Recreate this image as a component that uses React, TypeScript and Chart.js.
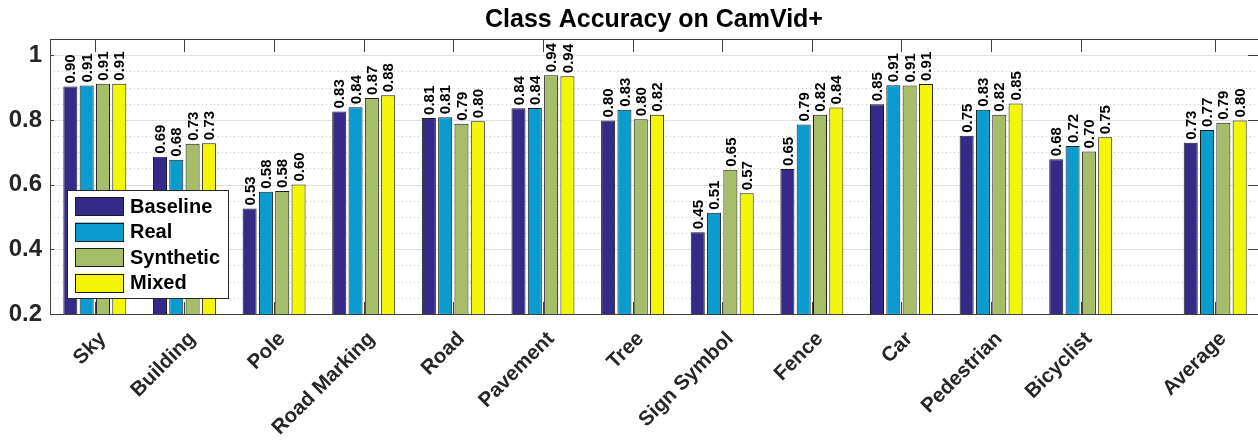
import React, { useEffect, useRef } from "react";
import { Chart, registerables } from "chart.js";

Chart.register(...registerables);

const FONT = '"Liberation Sans", Arial, Helvetica, sans-serif';

const titleText = "Class Accuracy on CamVid+";
const categories = [
  "Sky", "Building", "Pole", "Road Marking", "Road", "Pavement", "Tree",
  "Sign Symbol", "Fence", "Car", "Pedestrian", "Bicyclist", "Average",
];
const positions = [1, 2, 3, 4, 5, 6, 7, 8, 9, 10, 11, 12, 13.5];

const baseline = [0.903, 0.686, 0.526, 0.826, 0.806, 0.836, 0.798, 0.453, 0.648, 0.848, 0.751, 0.678, 0.729];
const real = [0.906, 0.677, 0.578, 0.839, 0.808, 0.837, 0.831, 0.513, 0.786, 0.907, 0.831, 0.719, 0.769];
const synthetic = [0.912, 0.726, 0.58, 0.868, 0.788, 0.938, 0.802, 0.646, 0.816, 0.906, 0.816, 0.702, 0.791];
const mixed = [0.912, 0.728, 0.6, 0.876, 0.796, 0.935, 0.816, 0.573, 0.838, 0.911, 0.851, 0.746, 0.798];

const seriesNames = ["Baseline", "Real", "Synthetic", "Mixed"];
const seriesValues = [baseline, real, synthetic, mixed];
const seriesColors = ["#352a87", "#0a9ccf", "#a6bd69", "#f5f50a"];

const yMajorTicks = [0.2, 0.4, 0.6, 0.8, 1];
const yMinorTicks = [0.25, 0.3, 0.35, 0.45, 0.5, 0.55, 0.65, 0.7, 0.75, 0.85, 0.9, 0.95];

const framePlugin = {
  id: "frame",
  beforeDatasetsDraw(chart: any) {
    const { ctx, chartArea: a, scales } = chart;
    const ys = scales.y;
    const xs = scales.x;
    ctx.save();
    ctx.strokeStyle = "#c4c4c4";
    ctx.lineWidth = 1;
    ctx.setLineDash([1, 3]);
    for (const v of yMinorTicks) {
      const y = Math.round(ys.getPixelForValue(v)) + 0.5;
      ctx.beginPath();
      ctx.moveTo(a.left, y);
      ctx.lineTo(a.right, y);
      ctx.stroke();
    }
    ctx.setLineDash([]);
    ctx.strokeStyle = "#e0e0e0";
    for (const v of yMajorTicks) {
      const y = Math.round(ys.getPixelForValue(v)) + 0.5;
      ctx.beginPath();
      ctx.moveTo(a.left, y);
      ctx.lineTo(a.right, y);
      ctx.stroke();
    }
    ctx.strokeStyle = "#404040";
    for (const p of positions) {
      const x = Math.round(xs.getPixelForValue(p)) + 0.5;
      ctx.beginPath();
      ctx.moveTo(x, a.top);
      ctx.lineTo(x, a.top + 13);
      ctx.moveTo(x, a.bottom);
      ctx.lineTo(x, a.bottom - 12);
      ctx.stroke();
    }
    for (const v of yMajorTicks) {
      const y = Math.round(ys.getPixelForValue(v)) + 0.5;
      ctx.beginPath();
      ctx.moveTo(a.left, y);
      ctx.lineTo(a.left + 4, y);
      ctx.moveTo(a.right, y);
      ctx.lineTo(a.right - 12, y);
      ctx.stroke();
    }
    ctx.restore();
  },
  afterDatasetsDraw(chart: any) {
    const { ctx, chartArea: a } = chart;
    ctx.save();
    ctx.fillStyle = "#000";
    ctx.font = `bold 15px ${FONT}`;
    ctx.textAlign = "left";
    ctx.textBaseline = "middle";
    chart.data.datasets.forEach((ds: any, di: number) => {
      const meta = chart.getDatasetMeta(di);
      meta.data.forEach((el: any, i: number) => {
        const v = ds.data[i].y;
        ctx.save();
        ctx.translate(el.x, el.y - 3);
        ctx.rotate(-Math.PI / 2);
        ctx.fillText(v.toFixed(2), 0, 1);
        ctx.restore();
      });
    });
    ctx.strokeStyle = "#404040";
    ctx.lineWidth = 1;
    ctx.strokeRect(a.left + 0.5, a.top + 0.5, a.right - a.left - 1, a.bottom - a.top);
    ctx.fillStyle = "#000";
    ctx.font = `bold 25px ${FONT}`;
    ctx.textAlign = "center";
    ctx.textBaseline = "middle";
    ctx.fillText(titleText, (a.left + a.right) / 2 - 1, 20);
    ctx.restore();
  },
  afterDraw(chart: any) {
    const { ctx } = chart;
    ctx.save();
    const bx = 67, by = 190, bw = 161, bh = 108;
    ctx.fillStyle = "#fff";
    ctx.fillRect(bx, by, bw, bh);
    ctx.strokeStyle = "#262626";
    ctx.lineWidth = 1;
    ctx.strokeRect(bx + 0.5, by + 0.5, bw, bh);
    ctx.font = `bold 20px ${FONT}`;
    ctx.textAlign = "left";
    ctx.textBaseline = "middle";
    seriesNames.forEach((name, i) => {
      const sy = 197 + i * 25.5;
      ctx.fillStyle = seriesColors[i];
      ctx.fillRect(75, sy, 49, 19);
      ctx.strokeStyle = "#1a1a1a";
      ctx.strokeRect(75.5, Math.round(sy) + 0.5, 48, 18);
      ctx.fillStyle = "#000";
      ctx.fillText(name, 130, sy + 10);
    });
    ctx.restore();
  },
};

export default function App() {
  const ref = useRef<HTMLCanvasElement | null>(null);
  useEffect(() => {
    if (!ref.current) return;
    const chart = new Chart(ref.current, {
      type: "bar",
      data: {
        datasets: seriesNames.map((name, si) => ({
          label: name,
          data: positions.map((p, i) => ({ x: p, y: seriesValues[si][i] })),
          backgroundColor: seriesColors[si],
          borderColor: "#1a1a1a",
          borderWidth: 1,
          categoryPercentage: 0.728,
          barPercentage: 0.86,
        })),
      },
      options: {
        animation: false,
        responsive: false,
        devicePixelRatio: 1,
        layout: { padding: { left: 0, right: 2, top: 39, bottom: 0 } },
        plugins: {
          legend: { display: false },
          tooltip: { enabled: false },
          title: { display: false },
        },
        scales: {
          x: {
            type: "linear",
            min: 0.5,
            max: 14,
            offset: false,
            grid: { display: false, drawTicks: false },
            border: { display: false },
            afterBuildTicks: (s: any) => {
              s.ticks = positions.map((v) => ({ value: v }));
            },
            afterFit: (s: any) => {
              s.height = 132;
            },
            ticks: {
              autoSkip: false,
              maxRotation: 45,
              minRotation: 45,
              padding: 13,
              labelOffset: 8,
              color: "#262626",
              font: { size: 20.5, weight: "bold", family: FONT },
              callback: (v: any) => {
                const idx = positions.indexOf(Number(v));
                return idx >= 0 ? categories[idx] : "";
              },
            },
          },
          y: {
            min: 0.2,
            max: 1.05,
            grid: { display: false, drawTicks: false },
            border: { display: false },
            afterBuildTicks: (s: any) => {
              s.ticks = yMajorTicks.map((v) => ({ value: v }));
            },
            afterFit: (s: any) => {
              s.width = 50;
            },
            ticks: {
              padding: 8,
              color: "#262626",
              font: { size: 24, weight: "bold", family: FONT },
              callback: (v: any) => String(v),
            },
          },
        },
      } as any,
      plugins: [framePlugin],
    });
    return () => chart.destroy();
  }, []);
  return (
    <div style={{ position: "fixed", left: 0, top: 0, width: 1258, height: 446, overflow: "hidden", background: "#fff" }}>
      <canvas ref={ref} width={1262} height={446} style={{ display: "block" }} />
    </div>
  );
}
